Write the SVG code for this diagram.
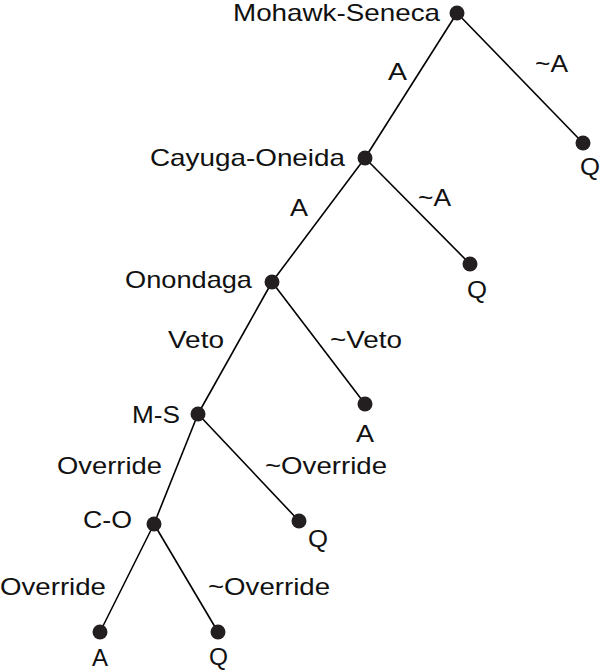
<svg xmlns="http://www.w3.org/2000/svg" width="600" height="671" viewBox="0 0 600 671">
<style>
.e{stroke:#000;stroke-width:1.6;fill:none}
.n{fill:#231f20}
text{font-family:"Liberation Sans",Arial,Helvetica,sans-serif;font-size:24px;fill:#111}
</style>
<rect width="600" height="671" fill="#fff"/>
<g id="connectors">
<line class="e" x1="457" y1="13" x2="583" y2="143"/>
<line class="e" x1="457" y1="13" x2="365" y2="158"/>
<line class="e" x1="365" y1="158" x2="470" y2="264"/>
<line class="e" x1="365" y1="158" x2="272" y2="282"/>
<line class="e" x1="272" y1="282" x2="365" y2="404"/>
<line class="e" x1="272" y1="282" x2="198" y2="414"/>
<line class="e" x1="198" y1="414" x2="299" y2="521"/>
<line class="e" x1="198" y1="414" x2="154" y2="524"/>
<line class="e" x1="154" y1="524" x2="100" y2="632"/>
<line class="e" x1="154" y1="524" x2="218" y2="632"/>
<text x="388" y="80" textLength="19" lengthAdjust="spacingAndGlyphs">A</text>
<text x="535" y="72" textLength="33" lengthAdjust="spacingAndGlyphs">~A</text>
<text x="290" y="216" textLength="18" lengthAdjust="spacingAndGlyphs">A</text>
<text x="418" y="206" textLength="33" lengthAdjust="spacingAndGlyphs">~A</text>
<text x="168" y="348" textLength="56" lengthAdjust="spacingAndGlyphs">Veto</text>
<text x="330" y="348" textLength="72" lengthAdjust="spacingAndGlyphs">~Veto</text>
<text x="57" y="474" textLength="105" lengthAdjust="spacingAndGlyphs">Override</text>
<text x="265" y="474" textLength="122" lengthAdjust="spacingAndGlyphs">~Override</text>
<text x="0" y="595" textLength="106" lengthAdjust="spacingAndGlyphs">Override</text>
<text x="208" y="595" textLength="122" lengthAdjust="spacingAndGlyphs">~Override</text>
</g>
<g id="mohawk-seneca"><circle class="n" cx="457" cy="13" r="7.5"/><text x="233" y="21" textLength="207" lengthAdjust="spacingAndGlyphs">Mohawk-Seneca</text></g>
<g id="leaf-q1"><circle class="n" cx="583" cy="143" r="7.5"/><text x="580" y="175" textLength="20" lengthAdjust="spacingAndGlyphs">Q</text></g>
<g id="cayuga-oneida"><circle class="n" cx="365" cy="158" r="7.5"/><text x="150" y="166" textLength="195" lengthAdjust="spacingAndGlyphs">Cayuga-Oneida</text></g>
<g id="leaf-q2"><circle class="n" cx="470" cy="264" r="7.5"/><text x="467" y="298" textLength="20" lengthAdjust="spacingAndGlyphs">Q</text></g>
<g id="onondaga"><circle class="n" cx="272" cy="282" r="7.5"/><text x="125" y="288" textLength="127" lengthAdjust="spacingAndGlyphs">Onondaga</text></g>
<g id="leaf-a1"><circle class="n" cx="365" cy="404" r="7.5"/><text x="356" y="442" textLength="18" lengthAdjust="spacingAndGlyphs">A</text></g>
<g id="m-s"><circle class="n" cx="198" cy="414" r="7.5"/><text x="132" y="423" textLength="48" lengthAdjust="spacingAndGlyphs">M-S</text></g>
<g id="leaf-q3"><circle class="n" cx="299" cy="521" r="7.5"/><text x="308" y="547" textLength="20" lengthAdjust="spacingAndGlyphs">Q</text></g>
<g id="c-o"><circle class="n" cx="154" cy="524" r="7.5"/><text x="83" y="528" textLength="49" lengthAdjust="spacingAndGlyphs">C-O</text></g>
<g id="leaf-a2"><circle class="n" cx="100" cy="632" r="7.5"/><text x="92" y="666" textLength="16" lengthAdjust="spacingAndGlyphs">A</text></g>
<g id="leaf-q4"><circle class="n" cx="218" cy="632" r="7.5"/><text x="209" y="665" textLength="19" lengthAdjust="spacingAndGlyphs">Q</text></g>
</svg>
